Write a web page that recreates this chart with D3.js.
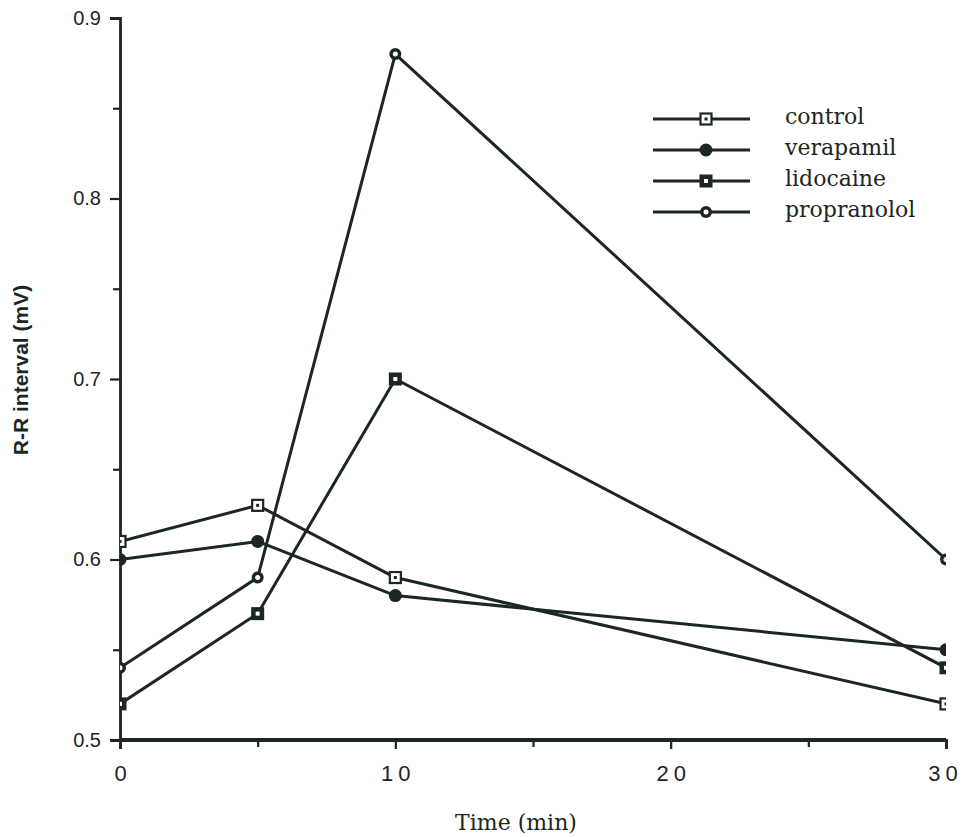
<!DOCTYPE html>
<html><head><meta charset="utf-8">
<script src="https://cdn.jsdelivr.net/npm/d3@7"></script>
<style>body{margin:0;background:#fff;} svg{display:block;}</style>
</head><body>
<svg id="c" width="964" height="837"></svg>
<script>
const times = [0, 5, 10, 30];
const seriesNames = ["control", "verapamil", "lidocaine", "propranolol"];
const control = [0.61, 0.63, 0.59, 0.52];
const verapamil = [0.60, 0.61, 0.58, 0.55];
const lidocaine = [0.52, 0.57, 0.70, 0.54];
const propranolol = [0.54, 0.59, 0.88, 0.60];
const yMajorTicks = [0.5, 0.6, 0.7, 0.8, 0.9];
const yMinorTicks = [0.55, 0.65, 0.75, 0.85];
const xMajorTicks = [0, 10, 20, 30];
const xMinorTicks = [5, 15, 25];

const series = [control, verapamil, lidocaine, propranolol];
const ink = "#1c2622";
const svg = d3.select("#c");
const x = d3.scaleLinear().domain([0, 30]).range([120, 946]);
const y = d3.scaleLinear().domain([0.5, 0.9]).range([740, 18]);

svg.append("defs").append("clipPath").attr("id", "plot")
  .append("rect").attr("x", 120).attr("y", 0).attr("width", 826).attr("height", 745);

// axes
const yAx = d3.axisLeft(y).tickValues(yMajorTicks).tickFormat(d3.format(".1f")).tickSize(10).tickPadding(9);
const gy = svg.append("g").attr("transform", "translate(120,0)").call(yAx);
gy.selectAll("text").attr("font-family", "Liberation Sans, Arial").attr("font-size", 20).attr("fill", ink);
svg.append("g").attr("transform", "translate(120,0)")
  .call(d3.axisLeft(y).tickValues(yMinorTicks).tickSize(7).tickFormat(""))
  .select(".domain").remove();

const xAx = d3.axisBottom(x).tickValues(xMajorTicks).tickFormat(d => String(d)).tickSize(9).tickPadding(16);
const gx = svg.append("g").attr("transform", "translate(0,740)").call(xAx);
gx.selectAll("text").attr("font-family", "Liberation Sans, Arial").attr("font-size", 22)
  .attr("letter-spacing", "5px").attr("dx", (d, i, n) => i === n.length - 1 ? "-1px" : "2.5px").attr("fill", ink);
svg.append("g").attr("transform", "translate(0,740)")
  .call(d3.axisBottom(x).tickValues(xMinorTicks).tickSize(7).tickFormat(""))
  .select(".domain").remove();

svg.selectAll(".domain").attr("stroke", ink).attr("stroke-width", 2.8);
svg.selectAll(".tick line").attr("stroke", ink).attr("stroke-width", 2.2);
// thicker bottom axis
svg.append("line").attr("x1", x(0)).attr("x2", x(30)).attr("y1", y(0.5)).attr("y2", y(0.5))
  .attr("stroke", ink).attr("stroke-width", 3.8);
svg.append("line").attr("x1", 110).attr("x2", 120).attr("y1", y(0.5)).attr("y2", y(0.5))
  .attr("stroke", ink).attr("stroke-width", 2.2);

// markers
function marker(g, i, cx, cy) {
  if (i === 0) {
    g.append("rect").attr("x", cx - 5.5).attr("y", cy - 5.5).attr("width", 11).attr("height", 11)
      .attr("fill", "#fff").attr("stroke", ink).attr("stroke-width", 2.2);
    g.append("rect").attr("x", cx - 1.5).attr("y", cy - 1.5).attr("width", 3).attr("height", 3).attr("fill", ink);
  } else if (i === 1) {
    g.append("circle").attr("cx", cx).attr("cy", cy).attr("r", 6.5).attr("fill", ink);
  } else if (i === 2) {
    g.append("rect").attr("x", cx - 6.5).attr("y", cy - 6.5).attr("width", 13).attr("height", 13).attr("fill", ink);
    g.append("rect").attr("x", cx - 2).attr("y", cy - 2).attr("width", 4).attr("height", 4).attr("fill", "#fff");
  } else {
    g.append("circle").attr("cx", cx).attr("cy", cy).attr("r", 6).attr("fill", ink);
    g.append("circle").attr("cx", cx).attr("cy", cy).attr("r", 2.5).attr("fill", "#fff");
  }
}

const plot = svg.append("g").attr("clip-path", "url(#plot)");
const line = d3.line().x((d, j) => x(times[j])).y(d => y(d));
series.forEach((s, i) => {
  plot.append("path").datum(s).attr("d", line).attr("fill", "none")
    .attr("stroke", ink).attr("stroke-width", 3).attr("stroke-linejoin", "round");
});
series.forEach((s, i) => {
  s.forEach((v, j) => marker(plot, i, x(times[j]), y(v)));
});

// legend
const lg = svg.append("g");
seriesNames.forEach((n, i) => {
  const ly = 119 + i * 31;
  lg.append("line").attr("x1", 653).attr("x2", 750).attr("y1", ly).attr("y2", ly)
    .attr("stroke", ink).attr("stroke-width", 3.2);
  marker(lg, i, 706, ly);
  lg.append("text").attr("x", 785).attr("y", ly - 1).attr("dominant-baseline", "middle")
    .attr("font-family", "DejaVu Serif, Liberation Serif").attr("font-size", 22).attr("fill", ink).text(n);
});

// titles
svg.append("text").attr("x", 516).attr("y", 830).attr("text-anchor", "middle")
  .attr("font-family", "DejaVu Serif, Liberation Serif").attr("font-size", 22).attr("fill", ink).text("Time (min)");
svg.append("text").attr("transform", "translate(28,370) rotate(-90)").attr("text-anchor", "middle")
  .attr("font-family", "Liberation Sans, Arial").attr("font-weight", "bold").attr("font-size", 21)
  .attr("fill", ink).text("R-R interval (mV)");
</script>
</body></html>
